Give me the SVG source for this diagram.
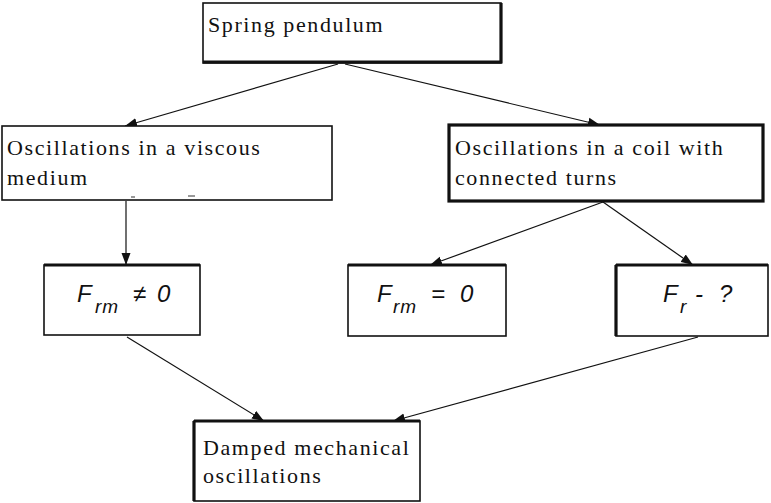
<svg xmlns="http://www.w3.org/2000/svg" width="771" height="503" viewBox="0 0 771 503">
  <style>
    .box { fill: #ffffff; stroke: #111111; stroke-width: 1.6; }
    .heavy { stroke: #111111; stroke-width: 3.2; fill: none; }
    .lbl { font-family: "Liberation Serif", "Times New Roman", serif; font-size: 22px; letter-spacing: 1.6px; fill: #111111; }
    .math { font-family: "Liberation Sans", Arial, sans-serif; font-style: italic; font-size: 24px; fill: #111111; }
    .sub { font-size: 19px; }
    .edge { stroke: #111111; stroke-width: 1.2; fill: none; marker-end: url(#arrow); }
  </style>
  <defs>
    <marker id="arrow" viewBox="0 0 12 10" refX="12" refY="5" markerWidth="12" markerHeight="10" markerUnits="userSpaceOnUse" orient="auto">
      <path d="M0,0.5 L12,5 L0,9.5 Z" fill="#111111"/>
    </marker>
  </defs>
  <rect width="771" height="503" fill="#ffffff"/>

  <g id="connectors">
    <line class="edge" x1="338" y1="64" x2="125" y2="126"/>
    <line class="edge" x1="345" y1="64" x2="600" y2="125"/>
    <line class="edge" x1="126" y1="201" x2="126" y2="265"/>
    <line class="edge" x1="603" y1="202" x2="430" y2="265"/>
    <line class="edge" x1="603" y1="202" x2="693" y2="265"/>
    <line class="edge" x1="127" y1="337" x2="264" y2="421"/>
    <line class="edge" x1="698" y1="337" x2="393" y2="421"/>
  </g>

  <g id="spring-pendulum">
    <rect class="box" x="203" y="3" width="298" height="60"/>
    <path class="heavy" d="M203,62 H501 V3"/>
    <text class="lbl" x="208" y="32">Spring pendulum</text>
  </g>

  <g id="viscous-medium">
    <rect class="box" x="2" y="126" width="330" height="74"/>
    <text class="lbl" x="7" y="155">Oscillations in a viscous</text>
    <text class="lbl" x="7" y="185">medium</text>
    <line x1="131" y1="197" x2="135" y2="197" stroke="#333" stroke-width="1"/>
    <line x1="188" y1="196" x2="195" y2="196" stroke="#333" stroke-width="1"/>
  </g>

  <g id="coil-turns">
    <rect class="box" x="449" y="125" width="314" height="76" style="stroke-width:3.2"/>
    <text class="lbl" x="455" y="155">Oscillations in a coil with</text>
    <text class="lbl" x="455" y="185">connected turns</text>
  </g>

  <g id="force-nonzero">
    <rect class="box" x="44" y="265" width="156" height="70"/>
    <path class="heavy" d="M44,265 H200"/>
    <text class="math" x="77" y="302">F<tspan class="sub" x="95" y="313" letter-spacing="1">rm</tspan><tspan x="133" y="302">≠</tspan><tspan x="157" y="302">0</tspan></text>
  </g>

  <g id="force-zero">
    <rect class="box" x="348" y="265" width="158" height="71"/>
    <path class="heavy" d="M348,265 H506"/>
    <text class="math" x="377" y="302">F<tspan class="sub" x="393" y="313" letter-spacing="1">rm</tspan><tspan x="431" y="302">=</tspan><tspan x="460" y="302">0</tspan></text>
  </g>

  <g id="force-unknown">
    <rect class="box" x="616" y="265" width="152" height="71"/>
    <path class="heavy" d="M616,265 V336 M616,265 H768"/>
    <text class="math" x="663" y="302">F<tspan class="sub" x="680" y="313">r</tspan><tspan x="695" y="302">-</tspan><tspan x="719" y="302">?</tspan></text>
  </g>

  <g id="damped-oscillations">
    <rect class="box" x="194" y="421" width="226" height="80"/>
    <path class="heavy" d="M194,421 V501 M194,421 H420"/>
    <text class="lbl" x="203" y="455">Damped mechanical</text>
    <text class="lbl" x="203" y="483">oscillations</text>
  </g>
</svg>
